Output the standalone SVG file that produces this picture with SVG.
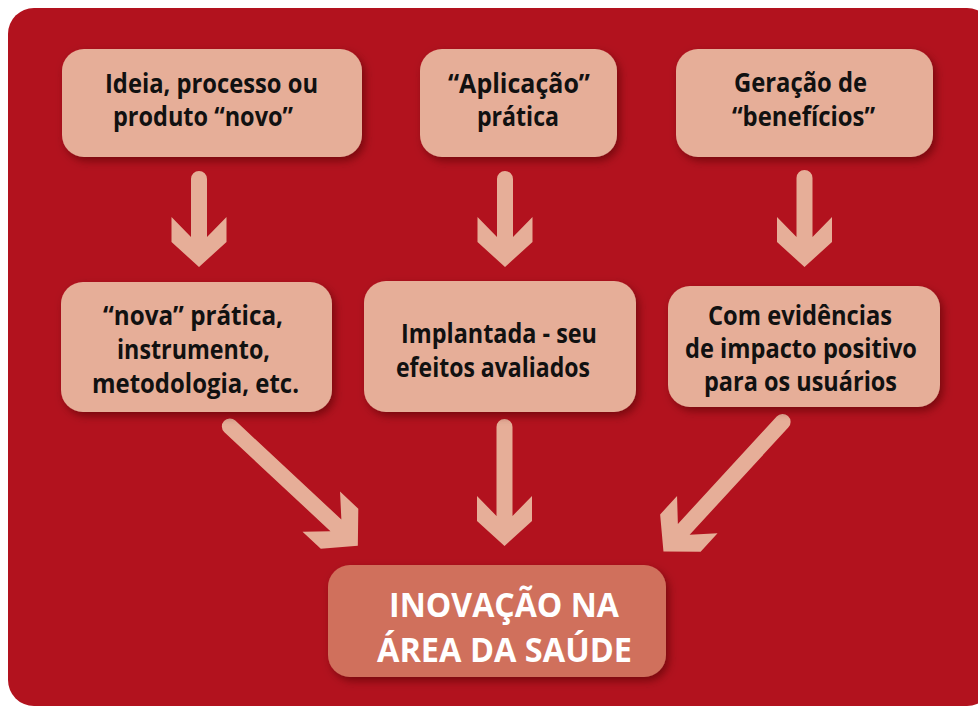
<svg xmlns="http://www.w3.org/2000/svg" width="978" height="707" viewBox="0 0 978 707">
<defs>
<style>
.box{fill:#E6AE98;}
.main{fill:#D0705C;}
.t{font-family:"Open Sans","Liberation Sans",sans-serif;font-weight:bold;font-size:26.5px;fill:#111;}
.w{font-family:"Open Sans","Liberation Sans",sans-serif;font-weight:bold;font-size:34.5px;fill:#ffffff;}
.arr{fill:#E6AE98;}
</style>
<filter id="sh" x="-20%" y="-20%" width="140%" height="150%">
<feDropShadow dx="3" dy="4" stdDeviation="4" flood-color="#4a0006" flood-opacity="0.55"/>
</filter>
</defs>
<rect x="0" y="0" width="978" height="707" fill="#ffffff"/>
<rect x="8" y="8" width="985" height="698" rx="26" fill="#B2121E"/>

<g id="connectors">
<path class="arr" transform="translate(199,171)" d="M -8,8 A 8 8 0 0 1 8,8 L 8,66 L 27.5,46 L 27.5,71 L 0,96 L -27.5,71 L -27.5,46 L -8,66 Z"/>
<path class="arr" transform="translate(505,171)" d="M -8,8 A 8 8 0 0 1 8,8 L 8,66 L 27.5,46 L 27.5,71 L 0,96 L -27.5,71 L -27.5,46 L -8,66 Z"/>
<path class="arr" transform="translate(804.5,170)" d="M -8,8 A 8 8 0 0 1 8,8 L 8,67 L 27.5,47 L 27.5,72 L 0,97 L -27.5,72 L -27.5,47 L -8,67 Z"/>
<path class="arr" transform="translate(504.5,419)" d="M -8,8 A 8 8 0 0 1 8,8 L 8,97 L 27.5,77 L 27.5,102 L 0,127 L -27.5,102 L -27.5,77 L -8,97 Z"/>
<path class="arr" transform="translate(224,421) rotate(-47)" d="M -8,8 A 8 8 0 0 1 8,8 L 8,153 L 27.5,133 L 27.5,158 L 0,183 L -27.5,158 L -27.5,133 L -8,153 Z"/>
<path class="arr" transform="translate(788,416) rotate(42.6)" d="M -8,8 A 8 8 0 0 1 8,8 L 8,154 L 27.5,134 L 27.5,159 L 0,184 L -27.5,159 L -27.5,134 L -8,154 Z"/>
</g>

<g id="n1">
<rect class="box" x="62" y="49" width="300" height="108" rx="22" filter="url(#sh)"/>
<text class="t" x="105" y="93" textLength="213" lengthAdjust="spacingAndGlyphs">Ideia, processo ou</text>
<text class="t" x="113" y="126" textLength="180" lengthAdjust="spacingAndGlyphs">produto “novo”</text>
</g>
<g id="n2">
<rect class="box" x="420" y="49" width="197" height="108" rx="22" filter="url(#sh)"/>
<text class="t" x="448" y="93" textLength="142" lengthAdjust="spacingAndGlyphs">“Aplicação”</text>
<text class="t" x="477" y="126" textLength="82" lengthAdjust="spacingAndGlyphs">prática</text>
</g>
<g id="n3">
<rect class="box" x="676" y="49" width="257" height="108" rx="22" filter="url(#sh)"/>
<text class="t" x="734" y="92" textLength="133" lengthAdjust="spacingAndGlyphs">Geração de</text>
<text class="t" x="732" y="126" textLength="143" lengthAdjust="spacingAndGlyphs">“benefícios”</text>
</g>
<g id="n4">
<rect class="box" x="61" y="282" width="271" height="130" rx="22" filter="url(#sh)"/>
<text class="t" x="103" y="325" textLength="180" lengthAdjust="spacingAndGlyphs">“nova” prática,</text>
<text class="t" x="117" y="359" textLength="153" lengthAdjust="spacingAndGlyphs">instrumento,</text>
<text class="t" x="92" y="393" textLength="207" lengthAdjust="spacingAndGlyphs">metodologia, etc.</text>
</g>
<g id="n5">
<rect class="box" x="364" y="281" width="272" height="131" rx="22" filter="url(#sh)"/>
<text class="t" x="401" y="343" textLength="196" lengthAdjust="spacingAndGlyphs">Implantada - seu</text>
<text class="t" x="396" y="377" textLength="194" lengthAdjust="spacingAndGlyphs">efeitos avaliados</text>
</g>
<g id="n6">
<rect class="box" x="668" y="286" width="272" height="121" rx="22" filter="url(#sh)"/>
<text class="t" x="708" y="325" textLength="184" lengthAdjust="spacingAndGlyphs">Com evidências</text>
<text class="t" x="685" y="358" textLength="232" lengthAdjust="spacingAndGlyphs">de impacto positivo</text>
<text class="t" x="704" y="391" textLength="193" lengthAdjust="spacingAndGlyphs">para os usuários</text>
</g>
<g id="n7">
<rect class="main" x="328" y="565" width="338" height="112" rx="22" filter="url(#sh)"/>
<text class="w" x="389" y="617" textLength="230" lengthAdjust="spacingAndGlyphs">INOVAÇÃO NA</text>
<text class="w" x="377" y="662" textLength="255" lengthAdjust="spacingAndGlyphs">ÁREA DA SAÚDE</text>
</g>
</svg>
